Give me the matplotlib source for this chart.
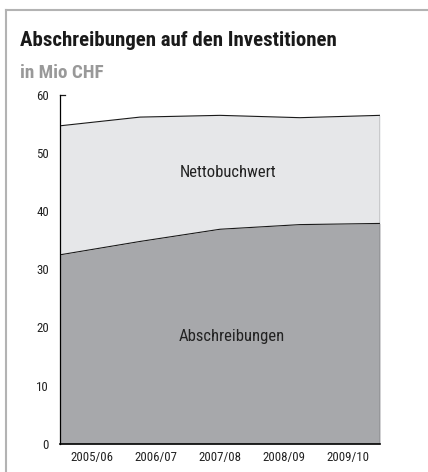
import matplotlib
matplotlib.use("Agg")
import matplotlib.pyplot as plt
from matplotlib.lines import Line2D
import numpy as np

# values
years = ["2005/06", "2006/07", "2007/08", "2008/09", "2009/10"]
abschreibungen = [32.5, 34.8, 36.9, 37.7, 37.9]
total = [54.7, 56.2, 56.5, 56.1, 56.5]
y_ticks = [0, 10, 20, 30, 40, 50, 60]

plt.rcParams["font.family"] = ["Roboto Condensed", "DejaVu Sans"]

x = np.arange(len(years))

fig = plt.figure(figsize=(4.28, 4.72), dpi=100)
ax = fig.add_axes([0.1402, 0.0600, 0.7477, 0.7387])

ax.fill_between(x, 0, abschreibungen, color="#a7a8ab", lw=0)
ax.fill_between(x, abschreibungen, total, color="#e6e7e9", lw=0)
ax.plot(x, abschreibungen, color="#1a1a1a", lw=0.8)
ax.plot(x, total, color="#1a1a1a", lw=0.8)
ax.plot([x[-1], x[-1]], [0, total[-1]], color="#555555", lw=1.0)

ax.set_xlim(x[0], x[-1])
ax.set_ylim(0, 60)

# category labels centred in five equal bins across the area
n = len(years)
label_pos = x[0] + (np.arange(n) + 0.5) * (x[-1] - x[0]) / n
ax.set_xticks(label_pos)
ax.set_xticklabels(years, fontsize=9.3, color="#222222")
ax.tick_params(axis="x", length=0, pad=5)

ax.set_yticks(y_ticks)
ax.set_yticklabels([str(v) for v in y_ticks], fontsize=9.3, color="#222222")
ax.tick_params(axis="y", length=0, pad=8)
ax.plot([x[0], x[0] + 0.06], [60, 60], color="#1a1a1a", lw=0.9, clip_on=False)

for side in ["top", "right"]:
    ax.spines[side].set_visible(False)
ax.spines["left"].set_linewidth(0.9)
ax.spines["bottom"].set_linewidth(1.2)
ax.set_facecolor("none")

ax.text(2.1, 46.6, "Nettobuchwert", fontsize=12, ha="center", va="center", color="#222222")
ax.text(2.15, 18.4, "Abschreibungen", fontsize=12, ha="center", va="center", color="#222222")

fig.text(20 / 428, 1 - 46 / 472, "Abschreibungen auf den Investitionen",
         fontsize=15, fontweight="bold", color="#1a1a1a", va="baseline")
fig.text(20 / 428, 1 - 78 / 472, "in Mio CHF",
         fontsize=13.8, fontweight="bold", color="#999999", va="baseline")

# frame lines on top and left
fig.add_artist(Line2D([6 / 428, 1], [1 - 9.5 / 472, 1 - 9.5 / 472], color="#b3b3b3", lw=1.5))
fig.add_artist(Line2D([6 / 428, 6 / 428], [0, 1 - 9.5 / 472], color="#b3b3b3", lw=1.5))

fig.savefig("out.png", dpi=100)
